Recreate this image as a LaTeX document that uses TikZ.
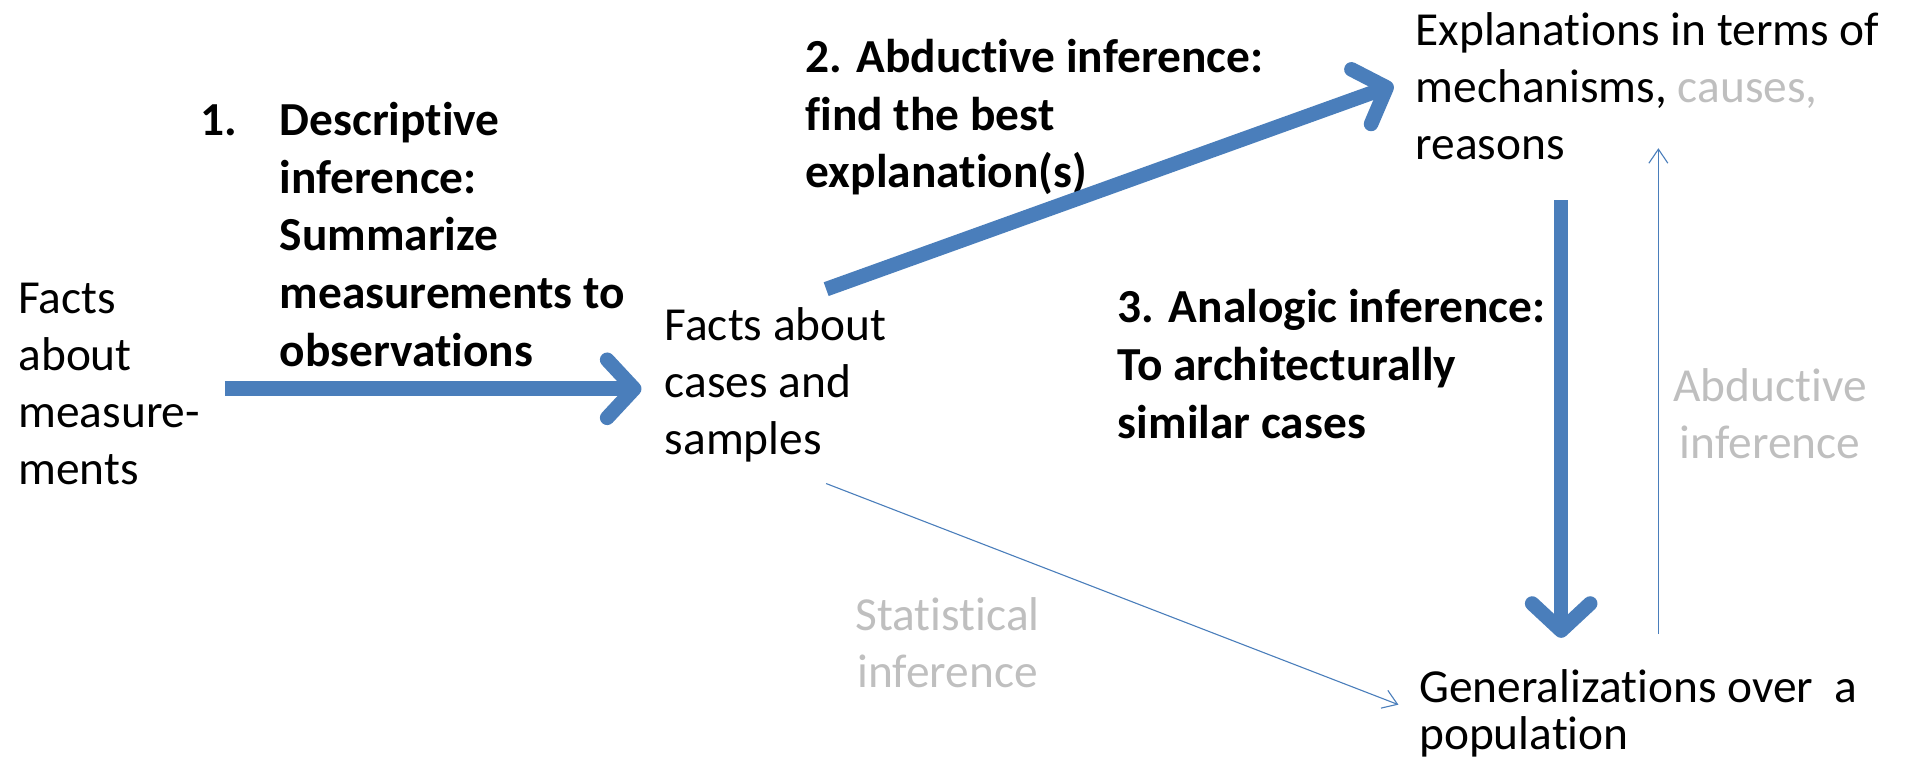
\documentclass[tikz,border=0pt]{standalone}
\usepackage{fontspec}
\setmainfont{Carlito}[Ligatures=NoCommon]
\usetikzlibrary{arrows.meta}
\definecolor{pblue}{HTML}{4A7EBB}
\definecolor{lgray}{HTML}{BFBFBF}
\begin{document}
\begin{tikzpicture}[x=1.215pt,y=-1.215pt,
  txt/.style={anchor=north west,inner sep=0pt,align=left,font=\fontsize{47.4}{57}\selectfont},
  btxt/.style={txt,font=\fontsize{47.4}{57.7}\selectfont\bfseries},
  gtxt/.style={txt,text=lgray,align=center,anchor=north},
  thick arrow/.style={draw=pblue,line width=14.6pt,-{Straight Barb[length=27pt,width=58pt,round]}},
  thin arrow/.style={draw=pblue,line width=1.1pt,-{Straight Barb[length=14pt,width=19pt]}}]
\useasboundingbox (0,0) rectangle (1568,625.5);
% text blocks
\node[txt] (meas) at (15,233) {Facts\\about\\measure-\\ments};
\node[txt] (cases) at (547,253) {Facts about\\cases and\\samples};
\node[txt] (expl) at (1165,10) {Explanations in terms of\\mechanisms, \textcolor{lgray}{causes,}\\reasons};
\node[txt,font=\fontsize{47.4}{46.5}\selectfont] (gen) at (1168,551) {Generalizations over~ a\\population};
\node[btxt] (l1) at (165,84) {\makebox[79pt][l]{1.}Descriptive\\\hspace*{79pt}inference:\\\hspace*{79pt}Summarize\\\hspace*{79pt}measurements to\\\hspace*{79pt}observations};
\node[btxt] (l2) at (663,32) {2. Abductive inference:\\find the best\\explanation(s)};
\node[btxt] (l3) at (920,238) {3. Analogic inference:\\To architecturally\\similar cases};
\node[gtxt] (l4) at (780,492) {Statistical\\inference};
\node[gtxt] (l5) at (1457,303) {Abductive\\inference};
% connector end points
\coordinate (a1s) at (185,320);
\coordinate (a1e) at (528,320);
\coordinate (a2s) at (680,238);
\coordinate (a2e) at (1147,70);
\coordinate (a3s) at (1285,165);
\coordinate (a3e) at (1285,525);
\coordinate (a4s) at (680,398);
\coordinate (a4e) at (1151,580);
\coordinate (a5s) at (1365,522);
\coordinate (a5e) at (1365,122);
\draw[thick arrow] (a1s) -- (a1e);
\draw[thick arrow] (a2s) -- (a2e);
\draw[thick arrow] (a3s) -- (a3e);
\draw[thin arrow] (a4s) -- (a4e);
\draw[thin arrow] (a5s) -- (a5e);
\end{tikzpicture}
\end{document}
